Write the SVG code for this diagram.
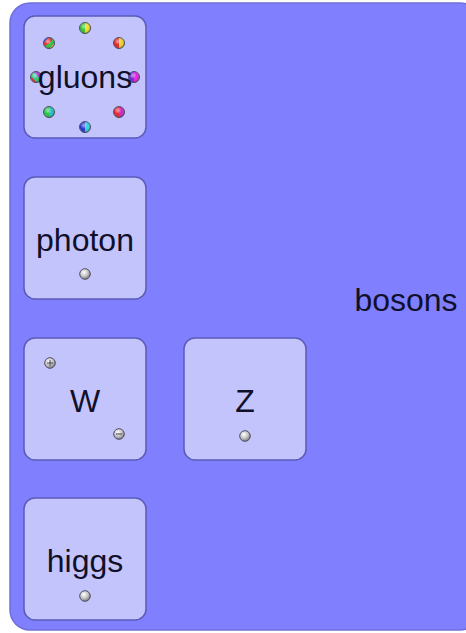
<svg xmlns="http://www.w3.org/2000/svg" width="466" height="633" viewBox="0 0 466 633">
  <style>
    .group { fill: #8080ff; stroke: #7070d8; stroke-width: 1.5; }
    .box { fill: #c4c4fc; stroke: #5a5ab8; stroke-width: 1.5; }
    .label { font-family: "Liberation Sans", Arial, sans-serif; font-size: 32px; fill: #10102a; text-anchor: middle; }
    .ball { stroke: #505068; stroke-width: 1; }
    .sign { stroke: #404050; stroke-width: 1; fill: none; }
  </style>
  <defs>
    <radialGradient id="grey" cx="0.4" cy="0.35" r="0.7">
      <stop offset="0" stop-color="#ffffff"/>
      <stop offset="0.5" stop-color="#c8c8c8"/>
      <stop offset="1" stop-color="#707070"/>
    </radialGradient>
    <radialGradient id="shine" cx="0.4" cy="0.35" r="0.7">
      <stop offset="0" stop-color="#ffffff" stop-opacity="0.6"/>
      <stop offset="0.5" stop-color="#ffffff" stop-opacity="0"/>
      <stop offset="1" stop-color="#000000" stop-opacity="0.35"/>
    </radialGradient>
    <linearGradient id="gGreenYellow" x1="0" y1="0" x2="1" y2="0">
      <stop offset="0.5" stop-color="#30c030"/><stop offset="0.5" stop-color="#f0e020"/>
    </linearGradient>
    <linearGradient id="gRedYellow" x1="0" y1="0" x2="1" y2="0">
      <stop offset="0.5" stop-color="#e02020"/><stop offset="0.5" stop-color="#f0d020"/>
    </linearGradient>
    <linearGradient id="gGreenCyan" x1="0" y1="0" x2="1" y2="0">
      <stop offset="0.5" stop-color="#20c040"/><stop offset="0.5" stop-color="#20c0c0"/>
    </linearGradient>
    <linearGradient id="gRedMagenta" x1="0" y1="0" x2="1" y2="0">
      <stop offset="0.5" stop-color="#e02030"/><stop offset="0.5" stop-color="#d020c0"/>
    </linearGradient>
    <linearGradient id="gBlueCyan" x1="0" y1="0" x2="1" y2="0">
      <stop offset="0.5" stop-color="#2030d0"/><stop offset="0.5" stop-color="#30d0e0"/>
    </linearGradient>
    <linearGradient id="gPurpleMagenta" x1="0" y1="0" x2="1" y2="0">
      <stop offset="0.5" stop-color="#7020d0"/><stop offset="0.5" stop-color="#e020e0"/>
    </linearGradient>
    <linearGradient id="gMix" x1="0" y1="0" x2="1" y2="1">
      <stop offset="0.25" stop-color="#2040d0"/><stop offset="0.25" stop-color="#e03030"/>
      <stop offset="0.5" stop-color="#e03030"/><stop offset="0.5" stop-color="#30c040"/>
      <stop offset="0.75" stop-color="#30c040"/><stop offset="0.75" stop-color="#f0d020"/>
    </linearGradient>
    <linearGradient id="gMix2" x1="0" y1="1" x2="1" y2="0">
      <stop offset="0.3" stop-color="#e03030"/><stop offset="0.3" stop-color="#30c080"/>
      <stop offset="0.6" stop-color="#30c080"/><stop offset="0.6" stop-color="#a040d0"/>
    </linearGradient>
    <g id="particle">
      <circle r="5.3" fill="url(#grey)" class="ball"/>
    </g>
  </defs>

  <!-- enclosing container -->
  <g id="bosons">
    <rect class="group" x="10" y="3" width="470" height="627" rx="20" ry="20"/>
    <text class="label" x="406" y="311">bosons</text>
  </g>

  <g id="connectors"/>

  <!-- gluons: eight colour-charged balls on a ring, label drawn over them -->
  <g id="gluons">
    <rect class="box" x="24" y="16" width="122" height="122" rx="11" ry="11"/>
    <g class="ball">
      <circle cx="85" cy="28" r="5.5" fill="url(#gGreenYellow)"/>
      <circle cx="119" cy="43" r="5.5" fill="url(#gRedYellow)"/>
      <circle cx="49" cy="43" r="5.5" fill="url(#gMix)"/>
      <circle cx="36" cy="77" r="5.5" fill="url(#gMix2)"/>
      <circle cx="134" cy="77" r="5.5" fill="url(#gPurpleMagenta)"/>
      <circle cx="49" cy="112" r="5.5" fill="url(#gGreenCyan)"/>
      <circle cx="119" cy="112" r="5.5" fill="url(#gRedMagenta)"/>
      <circle cx="85" cy="127" r="5.5" fill="url(#gBlueCyan)"/>
    </g>
    <g fill="url(#shine)">
      <circle cx="85" cy="28" r="5.5"/><circle cx="119" cy="43" r="5.5"/>
      <circle cx="49" cy="43" r="5.5"/><circle cx="36" cy="77" r="5.5"/>
      <circle cx="134" cy="77" r="5.5"/><circle cx="49" cy="112" r="5.5"/>
      <circle cx="119" cy="112" r="5.5"/><circle cx="85" cy="127" r="5.5"/>
    </g>
    <text class="label" x="85" y="88">gluons</text>
  </g>

  <g id="photon">
    <rect class="box" x="24" y="177" width="122" height="122" rx="11" ry="11"/>
    <text class="label" x="85" y="251">photon</text>
    <use href="#particle" x="85" y="274"/>
  </g>

  <g id="W">
    <rect class="box" x="24" y="338" width="122" height="122" rx="11" ry="11"/>
    <text class="label" x="85" y="412">W</text>
    <use href="#particle" x="50" y="363"/>
    <path class="sign" d="M47 363h6M50 360v6"/>
    <use href="#particle" x="119" y="434"/>
    <path class="sign" d="M116 434h6"/>
  </g>

  <g id="Z">
    <rect class="box" x="184" y="338" width="122" height="122" rx="11" ry="11"/>
    <text class="label" x="245" y="412">Z</text>
    <use href="#particle" x="245" y="436"/>
  </g>

  <g id="higgs">
    <rect class="box" x="24" y="498" width="122" height="122" rx="11" ry="11"/>
    <text class="label" x="85" y="572">higgs</text>
    <use href="#particle" x="85" y="596"/>
  </g>
</svg>
